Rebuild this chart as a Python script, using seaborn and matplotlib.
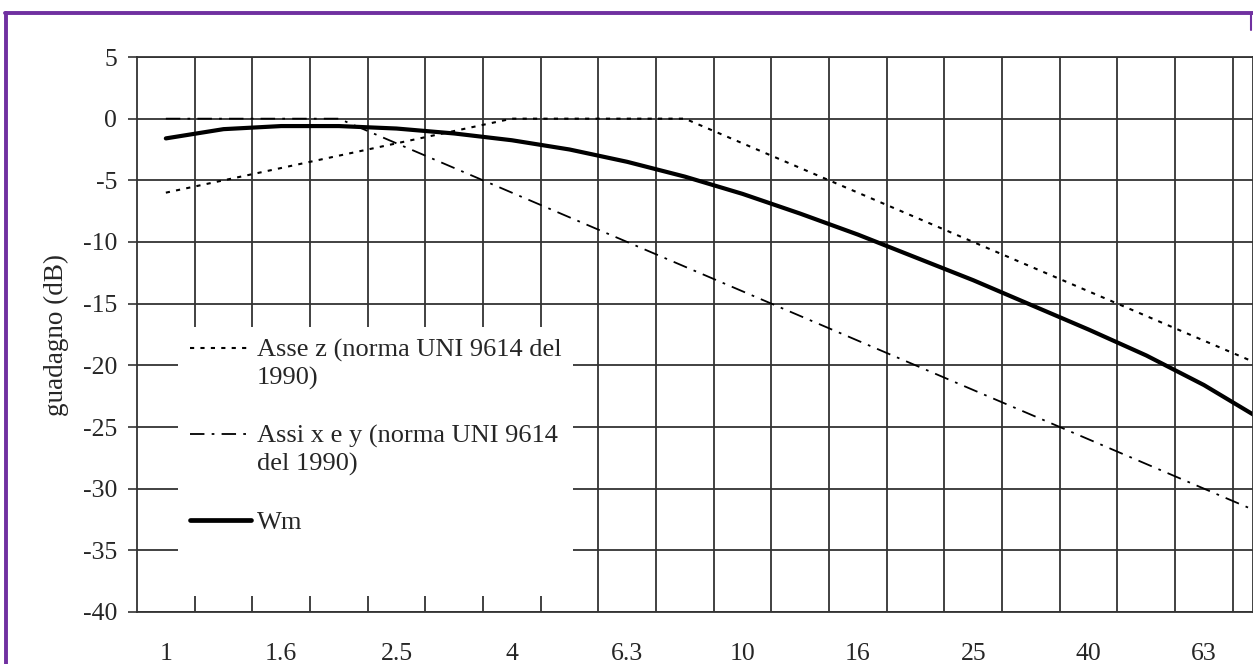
import numpy as np
import pandas as pd
import seaborn as sns

import matplotlib
matplotlib.use('Agg')

import matplotlib.pyplot as plt
from matplotlib.lines import Line2D
from matplotlib.patches import Rectangle
from matplotlib.legend_handler import HandlerLine2D

# third-octave bands (Hz)
bands = ["1", "1.25", "1.6", "2", "2.5", "3.15", "4", "5", "6.3", "8",
         "10", "12.5", "16", "20", "25", "31.5", "40", "50", "63", "80"]

# gains (dB)
asse_z = [-6, -5, -4, -3, -2, -1, 0, 0, 0, 0,
          -2, -4, -6, -8, -10, -12, -14, -16, -18, -20]
assi_xy = [0, 0, 0, 0, -2, -4, -6, -8, -10, -12,
           -14, -16, -18, -20, -22, -24, -26, -28, -30, -32]
wm = [-1.6, -0.85, -0.6, -0.6, -0.8, -1.2, -1.75, -2.5, -3.5, -4.7,
      -6.1, -7.7, -9.4, -11.25, -13.1, -15.1, -17.1, -19.2, -21.6, -24.4]

y_ticks = list(range(5, -45, -5))


class TopLineHandler(HandlerLine2D):
    # put the legend line next to the first row of a wrapped label
    def __init__(self, lift, **kw):
        super().__init__(**kw)
        self.lift = lift

    def create_artists(self, legend, orig_handle, xdescent, ydescent,
                       width, height, fontsize, trans):
        arts = super().create_artists(legend, orig_handle, xdescent, ydescent,
                                      width, height, fontsize, trans)
        for a in arts:
            a.set_ydata(np.asarray(a.get_ydata()) + self.lift)
        return arts


sns.set_style("white")
plt.rcParams['font.family'] = ['Liberation Serif', 'DejaVu Serif']
plt.rcParams['axes.unicode_minus'] = False

pos = np.arange(len(bands))

fig = plt.figure(figsize=(12.53, 6.64), dpi=100)
ax = fig.add_axes([137 / 1253, 1 - 612 / 664, 1116 / 1253, 555 / 664])

sns.lineplot(x=pos, y=asse_z, ax=ax, color="black", lw=1.5,
             linestyle=(0, (2, 3)), label="Asse z (norma UNI 9614 del\n1990)")
sns.lineplot(x=pos, y=assi_xy, ax=ax, color="black", lw=1.3,
             linestyle=(0, (8, 4, 1.5, 4)), label="Assi x e y (norma UNI 9614\ndel 1990)")
sns.lineplot(x=pos, y=wm, ax=ax, color="black", lw=3.0, label="Wm")

# x axis: category cells, label every other band
ax.set_xlim(-0.5, 18.85)
ax.set_xticks(pos[::2])
ax.set_xticklabels(bands[::2], fontsize=18.5)
ax.set_xticks(pos[:-1] + 0.5, minor=True)
ax.tick_params(axis='x', which='both', length=0, pad=22)

ax.set_ylim(-40, 5)
ax.set_yticks(y_ticks)
ax.set_yticklabels([str(v) for v in y_ticks], fontsize=18.5)
ax.tick_params(axis='y', length=9 * 0.72, width=1.2, color="#333333", pad=8, direction='out', left=True)

ax.grid(True, axis='y', which='major', color="#333333", lw=1.3)
ax.grid(True, axis='x', which='minor', color="#333333", lw=1.3)
ax.grid(False, axis='x', which='major')
ax.set_axisbelow(True)

for s in ax.spines.values():
    s.set_color("#333333")
    s.set_linewidth(1.3)

ax.set_xlabel("")
ax.set_ylabel("guadagno (dB)", fontsize=19.5, labelpad=10)

# white legend area (Excel-style, no border)
ax.add_patch(Rectangle((0.0367, 0.0288), 0.354, 0.4847, transform=ax.transAxes,
                       facecolor="white", edgecolor="none", zorder=1))

handles, labels = ax.get_legend_handles_labels()
hmap = {handles[0]: TopLineHandler(11.5), handles[1]: TopLineHandler(11.5)}
leg = ax.legend(handles, labels, handler_map=hmap, loc="upper left",
                bbox_to_anchor=(0.0367, 0.5135), borderaxespad=0,
                frameon=False, fontsize=19, handlelength=2.3,
                handletextpad=0.25, labelspacing=1.3, borderpad=0.45)
for t in leg.get_texts():
    t.set_linespacing(1.3)
for h in leg.legend_handles:
    if h.get_linewidth() > 2:
        h.set_linewidth(3.4)

# purple frame around the picture
purple = "#7030A0"
fig.add_artist(Line2D([6 / 1253, 6 / 1253], [0, 1 - 13 / 664], color=purple, lw=2.8))
fig.add_artist(Line2D([5 / 1253, 1], [1 - 13 / 664, 1 - 13 / 664], color=purple, lw=2.8))
fig.add_artist(Line2D([1251 / 1253, 1251 / 1253], [1 - 13 / 664, 1 - 30 / 664], color=purple, lw=1.5))

plt.savefig("out.png", dpi=100)
plt.close()
